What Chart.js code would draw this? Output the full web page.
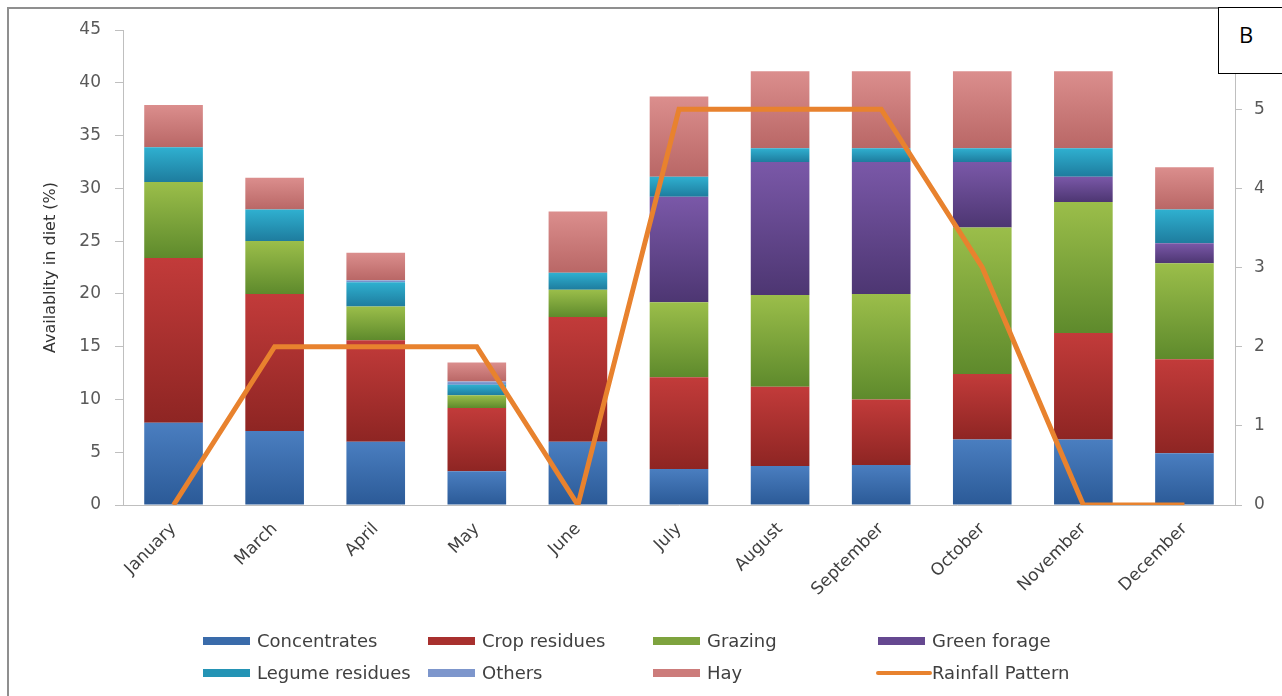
<!DOCTYPE html>
<html>
<head>
<meta charset="utf-8">
<script src="https://cdn.jsdelivr.net/npm/chart.js@4"></script>
<style>
html,body{margin:0;padding:0;background:#fff;overflow:hidden;width:1282px;height:696px}
#wrap{position:relative;width:1282px;height:696px;overflow:hidden}
#frame{position:absolute;left:7px;top:7px;width:1320px;height:740px;border:2px solid #8f8f8f;box-sizing:border-box}
canvas{position:absolute;left:0;top:0}
#tag{position:absolute;left:1218px;top:7px;width:80px;height:67px;border:1.5px solid #000;background:#fff;box-sizing:border-box;font-family:'Open Sans',sans-serif;font-size:22px;line-height:1;padding-left:20px;padding-top:15px;color:#000}
</style>
</head>
<body>
<div id="wrap">
  <div id="frame"></div>
  <canvas id="c" width="1282" height="696"></canvas>
  <div id="tag">B</div>
</div>
<script>
const categories = ['January','March','April','May','June','July','August','September','October','November','December'];
const concentrates   = [7.8, 7.0, 6.0, 3.2, 6.0, 3.4, 3.7, 3.8, 6.2, 6.2, 4.9];
const cropResidues   = [15.6, 13.0, 9.6, 6.0, 11.8, 8.7, 7.5, 6.2, 6.2, 10.1, 8.9];
const grazing        = [7.2, 5.0, 3.2, 1.2, 2.6, 7.1, 8.7, 10.0, 13.9, 12.4, 9.1];
const greenForage    = [0, 0, 0, 0, 0, 10.0, 12.6, 12.5, 6.2, 2.4, 1.9];
const legumeResidues = [3.3, 3.0, 2.3, 1.0, 1.6, 1.9, 1.3, 1.3, 1.3, 2.7, 3.2];
const others         = [0, 0, 0.2, 0.3, 0, 0, 0, 0, 0, 0, 0];
const hay            = [4.0, 3.0, 2.6, 1.8, 5.8, 7.6, 7.3, 7.3, 7.3, 7.3, 4.0];
const rainfall       = [0, 2, 2, 2, 0, 5, 5, 5, 3, 0, 0];
const leftTicks  = {min: 0, max: 45, step: 5};
const rightTicks = {min: 0, max: 6, step: 1};

const FONT = "'DejaVu Sans', sans-serif";

function segGrad(top, bottom){
  return (c) => {
    if (c.type !== 'data') return bottom;
    const chart = c.chart, ys = chart.scales.y;
    if (!ys) return bottom;
    const di = c.datasetIndex, i = c.dataIndex;
    let base = 0;
    for (let k = 0; k < di; k++) {
      const d = chart.data.datasets[k];
      if (d.type === 'bar') base += d.data[i] || 0;
    }
    const v = chart.data.datasets[di].data[i] || 0;
    const y0 = ys.getPixelForValue(base), y1 = ys.getPixelForValue(base + v);
    if (!isFinite(y0) || !isFinite(y1) || Math.abs(y0 - y1) < 0.5) return bottom;
    const g = chart.ctx.createLinearGradient(0, y1, 0, y0);
    g.addColorStop(0, top);
    g.addColorStop(1, bottom);
    return g;
  };
}

function barDs(label, data, top, bottom, mid){
  return {type:'bar', label, data, yAxisID:'y', stack:'s', order:1,
    backgroundColor: segGrad(top, bottom), borderWidth:0, legendColor: mid,
    categoryPercentage:1.0, barPercentage:0.58};
}

const gridLegend = {
  id: 'gridLegend',
  afterDraw(chart){
    const ctx = chart.ctx;
    const cols = [203, 428, 653, 878], rows = [641, 673];
    ctx.save();
    ctx.font = "18px " + FONT;
    ctx.textBaseline = 'middle';
    ctx.textAlign = 'left';
    chart.data.datasets.forEach((ds, i) => {
      const x = cols[i % 4], y = rows[Math.floor(i / 4)];
      if (ds.type === 'line') {
        ctx.strokeStyle = ds.borderColor; ctx.lineWidth = 4; ctx.lineCap = 'round';
        ctx.beginPath(); ctx.moveTo(x, y); ctx.lineTo(x + 52, y); ctx.stroke();
      } else {
        ctx.fillStyle = ds.legendColor;
        ctx.fillRect(x, y - 4, 47, 8);
      }
      ctx.fillStyle = '#404040';
      ctx.fillText(ds.label, x + 54, y + 1);
    });
    ctx.restore();
  }
};

Chart.defaults.font.family = FONT;

new Chart(document.getElementById('c'), {
  data: {
    labels: categories,
    datasets: [
      barDs('Concentrates', concentrates, '#4A7EC0', '#2B5A97', '#3A6BAA'),
      barDs('Crop residues', cropResidues, '#C23B3A', '#8E2523', '#A8302E'),
      barDs('Grazing', grazing, '#9BBE4A', '#5E8A2C', '#7EA33E'),
      barDs('Green forage', greenForage, '#7A58A8', '#4D3672', '#654890'),
      barDs('Legume residues', legumeResidues, '#2FB0D0', '#1E7C9E', '#2494B5'),
      barDs('Others', others, '#8FA8DA', '#6A85C2', '#7D96CC'),
      barDs('Hay', hay, '#DB8E8D', '#B96766', '#CC7C7B'),
      {type:'line', label:'Rainfall Pattern', data: rainfall, yAxisID:'y1', order:0,
       borderColor:'#E8822E', borderWidth:5, pointRadius:0, fill:false, tension:0}
    ]
  },
  options: {
    responsive: false,
    devicePixelRatio: 1,
    animation: false,
    layout: {padding: {left: 0, right: 0, top: 30, bottom: 0}},
    plugins: {legend: {display: false}, tooltip: {enabled: false}, title: {display: false}},
    scales: {
      x: {
        stacked: true,
        grid: {display: false},
        border: {display: true, color: '#BFBFBF', width: 1},
        ticks: {color: '#404040', font: {size: 17}, minRotation: 45, maxRotation: 45, autoSkip: false, padding: 6},
        afterFit: (s) => { s.height = 191; }
      },
      y: {
        position: 'left',
        stacked: true,
        min: leftTicks.min, max: leftTicks.max,
        grid: {drawOnChartArea: false, drawTicks: true, tickLength: 8, color: '#BFBFBF'},
        border: {display: true, color: '#BFBFBF', width: 1},
        ticks: {stepSize: leftTicks.step, color: '#595959', font: {size: 17}, padding: 14},
        title: {display: true, text: 'Availablity in diet (%)', color: '#333333', font: {size: 16}, padding: {top: 41, bottom: 0}},
        afterFit: (s) => { s.width = 123; }
      },
      y1: {
        position: 'right',
        min: rightTicks.min, max: rightTicks.max,
        grid: {drawOnChartArea: false, drawTicks: true, tickLength: 7, color: '#BFBFBF'},
        border: {display: true, color: '#BFBFBF', width: 1},
        ticks: {stepSize: rightTicks.step, color: '#595959', font: {size: 17}, padding: 12},
        afterFit: (s) => { s.width = 47; }
      }
    }
  },
  plugins: [gridLegend]
});
</script>
</body>
</html>
